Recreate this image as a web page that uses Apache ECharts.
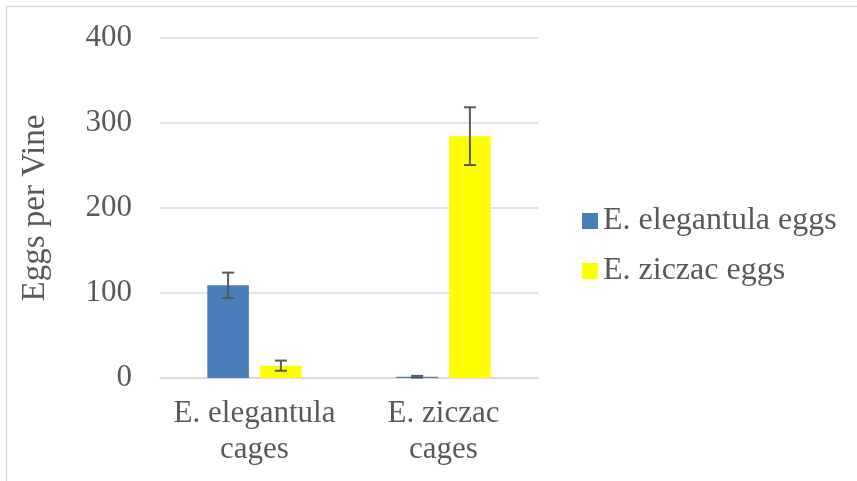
<!DOCTYPE html>
<html>
<head>
<meta charset="utf-8">
<script src="https://cdn.jsdelivr.net/npm/echarts@6/dist/echarts.min.js"></script>
<style>html,body{margin:0;padding:0;background:#fff}#c{width:857px;height:481px}</style>
</head>
<body>
<div id="c"></div>
<script>
var categories = ['E. elegantula\ncages', 'E. ziczac\ncages'];
var seriesNames = ['E. elegantula eggs', 'E. ziczac eggs'];
var elegantulaEggs = [109, 1.5];
var elegantulaErr = [15, 1];
var ziczacEggs = [14.5, 284.5];
var ziczacErr = [6, 34];
var yTicks = [0, 100, 200, 300, 400];

var FONT = 'Times New Roman, Tinos, Liberation Serif, DejaVu Serif, serif';
var chart = echarts.init(document.getElementById('c'), null, {renderer: 'canvas'});

function errSeries(vals, errs, sIdx) {
  var data = vals.map(function (v, i) { return [i, v, errs[i]]; });
  return {
    type: 'custom',
    z: 10,
    silent: true,
    data: data,
    renderItem: function (params, api) {
      var ci = api.value(0), v = api.value(1), e = api.value(2);
      var band = api.size([1, 0])[0];
      var bw = band * 0.22, gap = bw * 0.27;
      var off = (sIdx === 0 ? -1 : 1) * (bw + gap) / 2;
      var top = api.coord([ci, v + e]);
      var bot = api.coord([ci, Math.max(0, v - e)]);
      var x = top[0] + off;
      var cw = 6;
      var st = {stroke: '#595959', lineWidth: 2};
      return {
        type: 'group',
        children: [
          {type: 'line', shape: {x1: x, y1: top[1], x2: x, y2: bot[1]}, style: st},
          {type: 'line', shape: {x1: x - cw, y1: top[1], x2: x + cw, y2: top[1]}, style: st},
          {type: 'line', shape: {x1: x - cw, y1: bot[1], x2: x + cw, y2: bot[1]}, style: st}
        ]
      };
    }
  };
}

chart.setOption({
  animation: false,
  backgroundColor: '#fff',
  textStyle: {fontFamily: FONT},
  graphic: [{
    type: 'rect', silent: true,
    shape: {x: 6.5, y: 6.5, width: 1000, height: 1000},
    style: {fill: 'none', stroke: '#d9d9d9', lineWidth: 1.5}
  }],
  grid: {left: 160, right: 319, top: 38, bottom: 103},
  legend: {
    orient: 'vertical',
    left: 577, top: 200,
    icon: 'rect', itemWidth: 16, itemHeight: 16, itemGap: 18,
    data: seriesNames,
    textStyle: {fontFamily: FONT, fontSize: 32, color: '#595959', lineHeight: 32}
  },
  xAxis: {
    type: 'category',
    data: categories,
    axisLine: {lineStyle: {color: '#d9d9d9', width: 1.5}},
    axisTick: {show: false},
    axisLabel: {fontFamily: FONT, fontSize: 31, color: '#595959', lineHeight: 36, margin: 18, interval: 0}
  },
  yAxis: {
    type: 'value',
    min: 0, max: 400, interval: 100,
    name: 'Eggs per Vine',
    nameLocation: 'middle',
    nameGap: 108,
    nameTextStyle: {fontFamily: FONT, fontSize: 33, color: '#595959'},
    axisLine: {show: false},
    axisTick: {show: false},
    splitLine: {lineStyle: {color: '#d9d9d9', width: 1.5}},
    axisLabel: {fontFamily: FONT, fontSize: 31, color: '#595959', margin: 28,
      formatter: function (v) { return yTicks.indexOf(v) >= 0 ? String(v) : ''; }}
  },
  series: [
    {name: seriesNames[0], type: 'bar', data: elegantulaEggs, barWidth: '22%', barGap: '27%',
     itemStyle: {color: '#4a7ebb'}},
    {name: seriesNames[1], type: 'bar', data: ziczacEggs, barWidth: '22%', barGap: '27%',
     itemStyle: {color: '#ffff00'}},
    errSeries(elegantulaEggs, elegantulaErr, 0),
    errSeries(ziczacEggs, ziczacErr, 1)
  ]
});
</script>
</body>
</html>
